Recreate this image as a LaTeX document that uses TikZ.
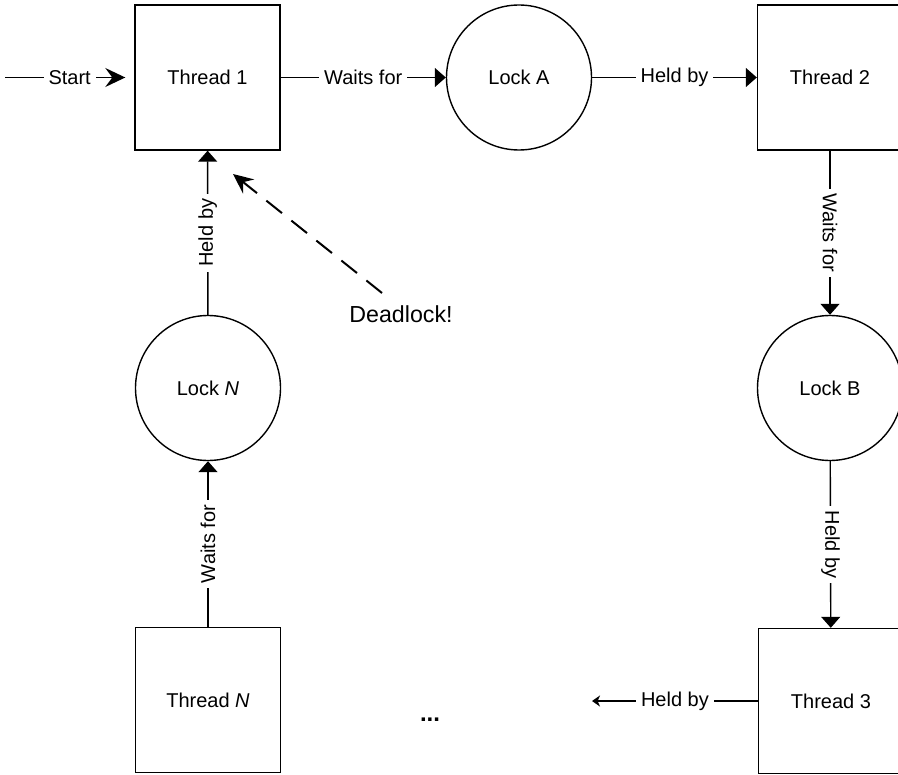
\documentclass[tikz,border=0pt]{standalone}
\usepackage{fontspec}
\setmainfont{Liberation Sans}
\usetikzlibrary{arrows.meta}

\begin{document}
\begin{tikzpicture}[x=0.5pt, y=-0.5pt, line width=0.7pt,
		thread/.style={draw, minimum size=72.5pt, inner sep=0pt},
		lock/.style={draw, circle, minimum size=72.5pt, inner sep=0pt},
		lbl/.style={fill=white, inner sep=2.5pt},
		tri/.style={-{Triangle[length=5.5pt,width=9.5pt]}},
		stl/.style={-{Stealth[length=10pt,width=9.5pt,inset=3.5pt]}},
		small/.style={-{Stealth[length=4pt,width=5.5pt,inset=1.2pt]}},
		deadlock/.style={line width=1pt, dash pattern=on 10pt off 6pt, -{Stealth[length=10pt,width=9pt,inset=3.5pt]}}]
		%%%%% START %%%%%
		
		\useasboundingbox (0, 0) rectangle (898, 775);
		\clip (0, 0) rectangle (898, 775);
		
		\node[thread] (t1) at (207.5, 77.5) {Thread 1};
		\node[lock] (la) at (519, 77.5) {Lock A};
		\node[thread] (t2) at (830, 77.5) {Thread 2};
		\node[lock] (lb) at (830, 388) {Lock B};
		\node[thread] (t3) at (831, 701) {Thread 3};
		\node[thread] (tn) at (208, 700) {Thread \textit{N}};
		\node[lock] (ln) at (208, 388) {Lock \textit{N}};
		
		\coordinate (in) at (5, 77.5);
		\coordinate (out) at (592, 701);
		
		\draw[stl, shorten >=4.5pt] (in) -- node[lbl] {Start} (t1);
		\draw[tri] (t1) -- node[lbl] {Waits for} (la);
		\draw[tri] (la) -- node[lbl] {Held by} (t2);
		\draw[tri] (t2) -- node[lbl, rotate=-90] {Waits for} (lb);
		\draw[tri] (lb) -- node[lbl, rotate=-90] {Held by} (t3);
		\draw[small] (t3) -- node[lbl] {Held by} (out);
		\draw[tri] (tn) -- node[lbl, rotate=90] {Waits for} (ln);
		\draw[tri] (ln) -- node[lbl, rotate=90] {Held by} (t1);
		
		\node[font=\fontsize{11.6pt}{14pt}\selectfont] (dl) at (401, 314) {Deadlock!};
		\coordinate (dlstart) at (382, 293);
		\coordinate (dltip) at (233, 174);
		\draw[deadlock] (dlstart) -- (dltip);
		
		\node[font=\large] (dots) at (430, 720) {\textbf{...}};
		
		%%%%% END %%%%%
	\end{tikzpicture}
\end{document}
